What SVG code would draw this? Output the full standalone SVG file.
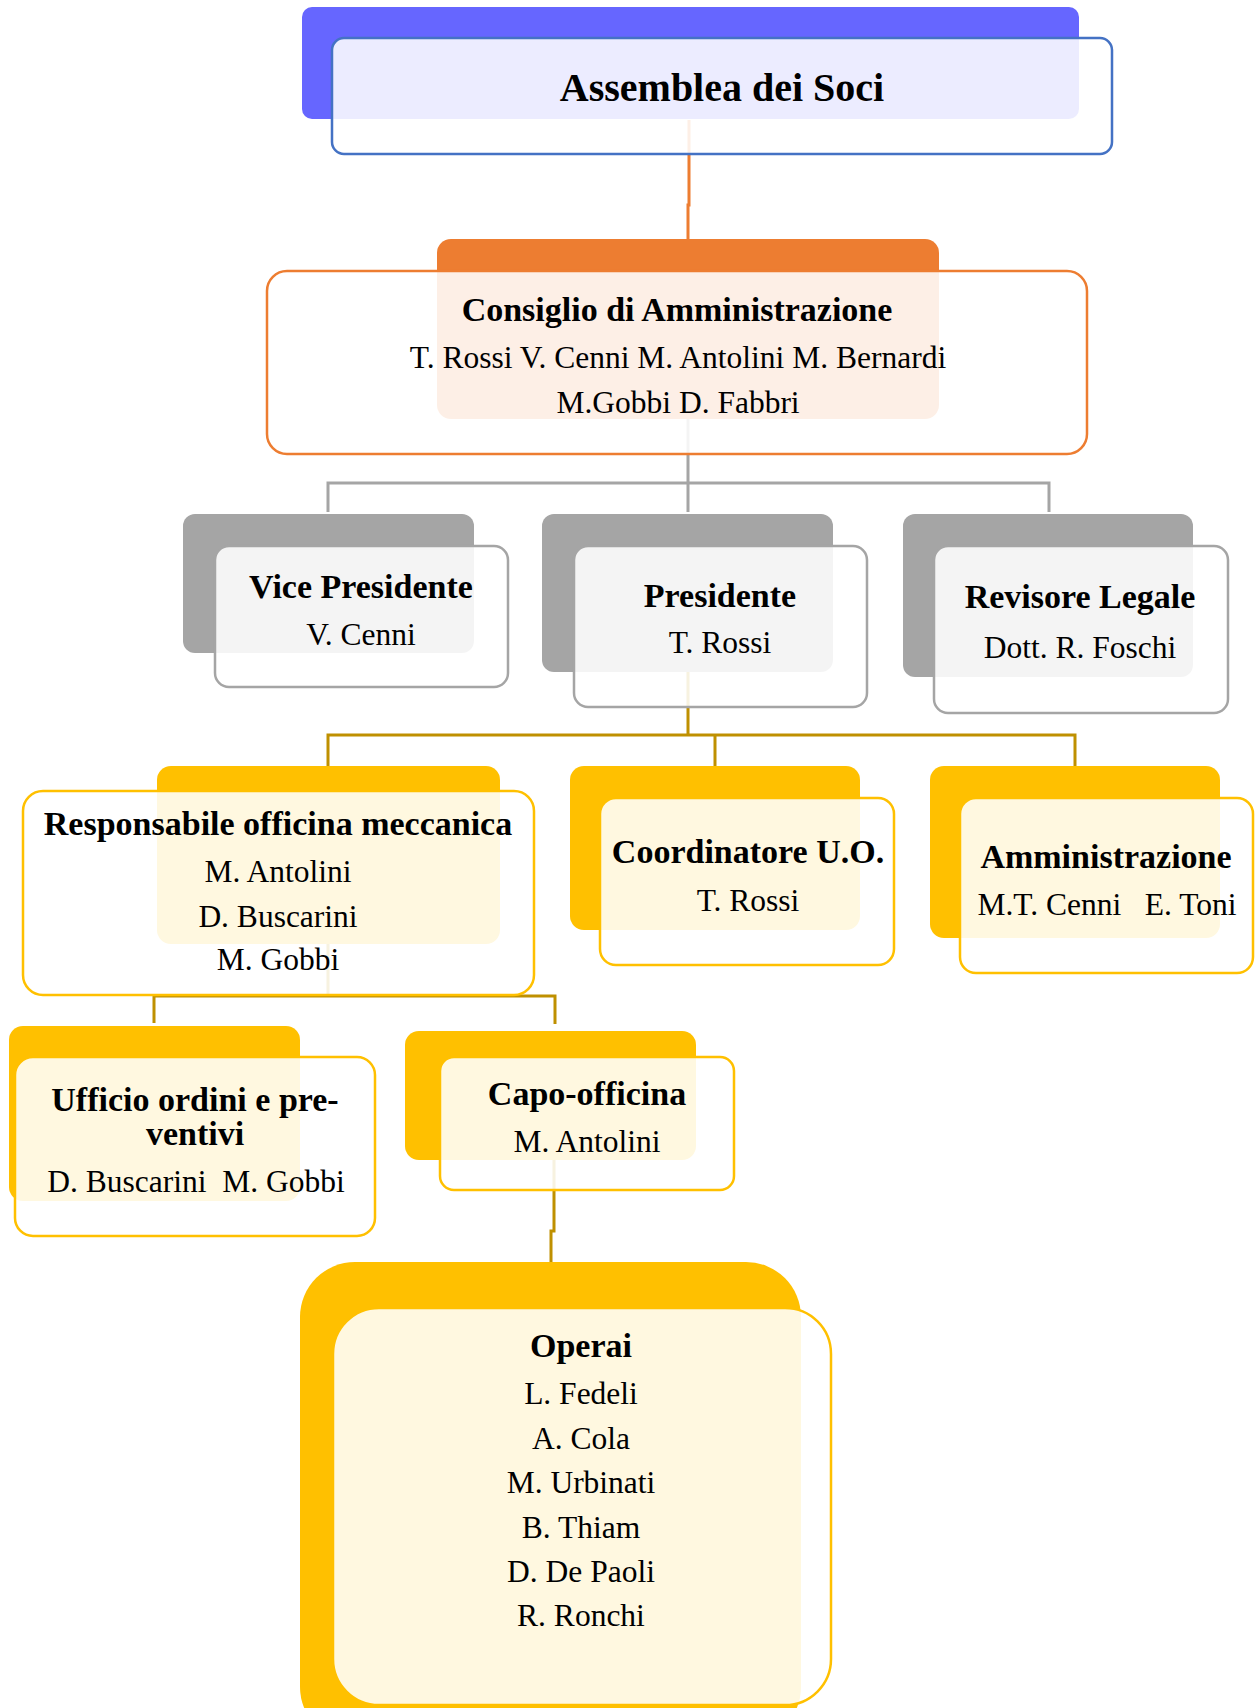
<svg xmlns="http://www.w3.org/2000/svg" width="1255" height="1708" viewBox="0 0 1255 1708">
<style>
text{font-family:"Liberation Serif","Times New Roman",serif;fill:#000;text-anchor:middle}
.t{font-weight:bold;font-size:34px}
.n{font-size:31.5px}
.big{font-weight:bold;font-size:40px}
.front{fill:#fff;fill-opacity:0.88;stroke-width:2.5}
.blueB{fill:#6666FF}
.blueF{stroke:#4472C4}
.orB{fill:#ED7D31}
.orF{stroke:#ED7D31}
.grB{fill:#A5A5A5}
.grF{stroke:#A5A5A5}
.goB{fill:#FFC000}
.goF{stroke:#FFC000}
.c{fill:none;stroke-width:3}
.cor{stroke:#ED7D31}
.cgr{stroke:#A5A5A5}
.cgo{stroke:#BF9000}
</style>
<rect width="1255" height="1708" fill="#fff"/>
<g id="connectors">
<path class="c cor" d="M689 120 V205 H688 V239"/>
<path class="c cgr" d="M688 419 V483 M328 512 V483 H1049 V512 M688 483 V512"/>
<path class="c cgo" d="M688 671 V735 M328 766 V735 H1075 V766 M715 735 V766"/>
<path class="c cgo" d="M328 943 V996 M154 1023 V996 H555 V1024"/>
<path class="c cgo" d="M554 1159 V1231 H551 V1262"/>
</g>
<g id="assemblea">
<rect class="blueB" x="302" y="7" width="777" height="112" rx="10"/>
<rect class="front blueF" x="332" y="38" width="780" height="116" rx="12"/>
<text class="big" x="722" y="101">Assemblea dei Soci</text>
</g>
<g id="cda">
<rect class="orB" x="437" y="239" width="502" height="180" rx="14"/>
<rect class="front orF" x="267" y="271" width="820" height="183" rx="20"/>
<text class="t" x="677" y="321">Consiglio di Amministrazione</text>
<text class="n" x="678" y="368">T. Rossi V. Cenni M. Antolini M. Bernardi</text>
<text class="n" x="678" y="413">M.Gobbi D. Fabbri</text>
</g>
<g id="vicepresidente">
<rect class="grB" x="183" y="514" width="291" height="139" rx="12"/>
<rect class="front grF" x="215" y="546" width="293" height="141" rx="14"/>
<text class="t" x="361" y="598">Vice Presidente</text>
<text class="n" x="361" y="645">V. Cenni</text>
</g>
<g id="presidente">
<rect class="grB" x="542" y="514" width="291" height="158" rx="12"/>
<rect class="front grF" x="574" y="546" width="293" height="161" rx="14"/>
<text class="t" x="720" y="607">Presidente</text>
<text class="n" x="720" y="653">T. Rossi</text>
</g>
<g id="revisore">
<rect class="grB" x="903" y="514" width="290" height="163" rx="12"/>
<rect class="front grF" x="934" y="546" width="294" height="167" rx="14"/>
<text class="t" x="1080" y="608">Revisore Legale</text>
<text class="n" x="1080" y="658">Dott. R. Foschi</text>
</g>
<g id="responsabile">
<rect class="goB" x="157" y="766" width="343" height="178" rx="14"/>
<rect class="front goF" x="23" y="791" width="511" height="204" rx="20"/>
<text class="t" x="278" y="835">Responsabile officina meccanica</text>
<text class="n" x="278" y="882">M. Antolini</text>
<text class="n" x="278" y="927">D. Buscarini</text>
<text class="n" x="278" y="970">M. Gobbi</text>
</g>
<g id="coordinatore">
<rect class="goB" x="570" y="766" width="290" height="164" rx="14"/>
<rect class="front goF" x="600" y="798" width="294" height="167" rx="16"/>
<text class="t" x="748" y="863">Coordinatore U.O.</text>
<text class="n" x="748" y="911">T. Rossi</text>
</g>
<g id="amministrazione">
<rect class="goB" x="930" y="766" width="290" height="172" rx="14"/>
<rect class="front goF" x="960" y="798" width="293" height="175" rx="16"/>
<text class="t" x="1106" y="868">Amministrazione</text>
<text class="n" x="1107" y="915" xml:space="preserve">M.T. Cenni   E. Toni</text>
</g>
<g id="ufficio">
<rect class="goB" x="9" y="1026" width="291" height="175" rx="14"/>
<rect class="front goF" x="15" y="1057" width="360" height="179" rx="18"/>
<text class="t" x="195" y="1111">Ufficio ordini e pre-</text>
<text class="t" x="195" y="1145">ventivi</text>
<text class="n" x="196" y="1192" xml:space="preserve">D. Buscarini  M. Gobbi</text>
</g>
<g id="capo">
<rect class="goB" x="405" y="1031" width="291" height="129" rx="14"/>
<rect class="front goF" x="440" y="1057" width="294" height="133" rx="14"/>
<text class="t" x="587" y="1105">Capo-officina</text>
<text class="n" x="587" y="1152">M. Antolini</text>
</g>
<g id="operai">
<rect class="goB" x="300" y="1262" width="501" height="480" rx="55"/>
<rect class="front goF" x="333" y="1308" width="498" height="397" rx="46"/>
<text class="t" x="581" y="1357">Operai</text>
<text class="n" x="581" y="1404">L. Fedeli</text>
<text class="n" x="581" y="1449">A. Cola</text>
<text class="n" x="581" y="1493">M. Urbinati</text>
<text class="n" x="581" y="1538">B. Thiam</text>
<text class="n" x="581" y="1582">D. De Paoli</text>
<text class="n" x="581" y="1626">R. Ronchi</text>
</g>
</svg>
